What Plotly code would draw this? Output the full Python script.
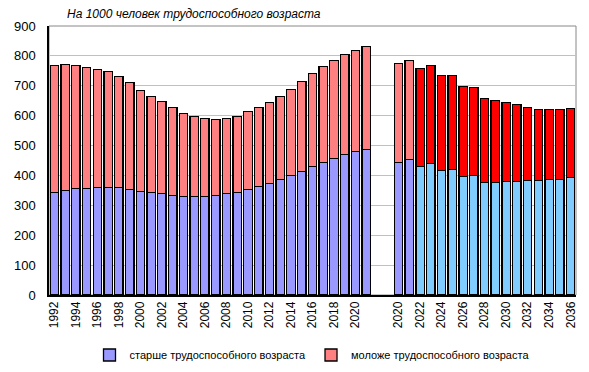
import plotly.graph_objects as go

# ---- data ----
years_hist = list(range(1992, 2022))  # 1992..2021
older_hist = [343, 349, 356, 356, 360, 360, 360, 353, 346, 343,
              339, 333, 329, 329, 329, 333, 339, 343, 353, 363,
              373, 386, 400, 413, 430, 443, 457, 470, 480, 487]
total_hist = [767, 771, 767, 761, 754, 747, 731, 711, 684, 664,
              647, 627, 607, 597, 590, 587, 590, 597, 614, 627,
              644, 664, 687, 714, 741, 764, 784, 804, 818, 831]
younger_hist = [t - o for t, o in zip(total_hist, older_hist)]

years_proj = list(range(2020, 2037))  # 2020..2036
older_proj = [443, 453, 430, 440, 416, 420, 396, 400, 376, 376,
              380, 380, 383, 383, 386, 386, 393]
total_proj = [774, 784, 758, 767, 734, 734, 697, 694, 657, 650,
              644, 637, 627, 620, 620, 620, 624]
younger_proj = [t - o for t, o in zip(total_proj, older_proj)]

gap = 2
title_text = "На 1000 человек трудоспособного возраста"
name_older = "старше трудоспособного возраста"
name_younger = "моложе трудоспособного возраста"

# ---- positions ----
x_hist = list(range(len(years_hist)))
start_proj = len(years_hist) + gap
x_proj = [start_proj + i for i in range(len(years_proj))]
n_same = 2  # first two projection years keep the historical colours

all_x = x_hist + list(range(len(years_hist), start_proj)) + x_proj
all_lbl = [str(y) for y in years_hist] + [""] * gap + [str(y) for y in years_proj]
tickvals = all_x[::2]
ticktext = all_lbl[::2]

C_OLD1 = "#9999FF"
C_YNG1 = "#FF8080"
C_OLD2 = "#80CCFF"
C_YNG2 = "#FF0000"

old_x = x_hist + x_proj
old_y = older_hist + older_proj
old_c = [C_OLD1] * len(x_hist) + [C_OLD1] * n_same + [C_OLD2] * (len(x_proj) - n_same)
yng_y = younger_hist + younger_proj
yng_c = [C_YNG1] * len(x_hist) + [C_YNG1] * n_same + [C_YNG2] * (len(x_proj) - n_same)

W, H = 589, 372
ML, MR, MT, MB = 49, 13, 26, 77
PW, PH = W - ML - MR, H - MT - MB

FONT = "Liberation Sans, Arial, sans-serif"
fig = go.Figure()
fig.add_trace(go.Bar(x=old_x, y=old_y, name=name_older,
                     marker=dict(color=old_c, line=dict(color="black", width=1.3))))
fig.add_trace(go.Bar(x=old_x, y=yng_y, name=name_younger,
                     marker=dict(color=yng_c, line=dict(color="black", width=1.3))))

fig.update_layout(
    width=W, height=H,
    barmode="stack", bargap=0.22,
    paper_bgcolor="white", plot_bgcolor="white",
    margin=dict(l=ML, r=MR, t=MT, b=MB, autoexpand=False),
    font=dict(family=FONT, size=12, color="black"),
    showlegend=True,
    legend=dict(orientation="h", x=(312 - ML) / PW, xanchor="center",
                y=-(355 - (MT + PH)) / PH, yanchor="middle",
                font=dict(size=11, family=FONT), itemwidth=30, traceorder="normal",
                tracegroupgap=0, itemclick=False),
    annotations=[dict(text="<i>" + title_text + "</i>", xref="paper", yref="paper",
                      x=(65 - ML) / PW, xanchor="left",
                      y=1 + (MT - 14) / PH, yanchor="middle",
                      showarrow=False, font=dict(size=12, family=FONT))],
)

fig.update_xaxes(range=[-0.5, all_x[-1] + 0.5], tickmode="array", tickvals=tickvals,
                 ticktext=ticktext, tickangle=-90, showgrid=False, showline=True,
                 linecolor="black", linewidth=1.5, ticks="", automargin=False,
                 tickfont=dict(size=12, family=FONT), zeroline=False)
fig.update_yaxes(range=[0, 900], dtick=100, showgrid=True, gridcolor="#C0C0C0",
                 gridwidth=1, showline=True, linecolor="black", linewidth=1.5,
                 ticks="", automargin=False, tickfont=dict(size=13, family=FONT),
                 ticklabelstandoff=9, zeroline=False)
# gray frame on top/right
fig.add_shape(type="rect", xref="paper", yref="paper", x0=0, y0=0, x1=1, y1=1,
              line=dict(color="#888888", width=1), layer="below")

fig.write_html("out.html", config={"displayModeBar": False},
               post_script="document.body.style.margin='0';document.body.style.overflow='hidden';")
